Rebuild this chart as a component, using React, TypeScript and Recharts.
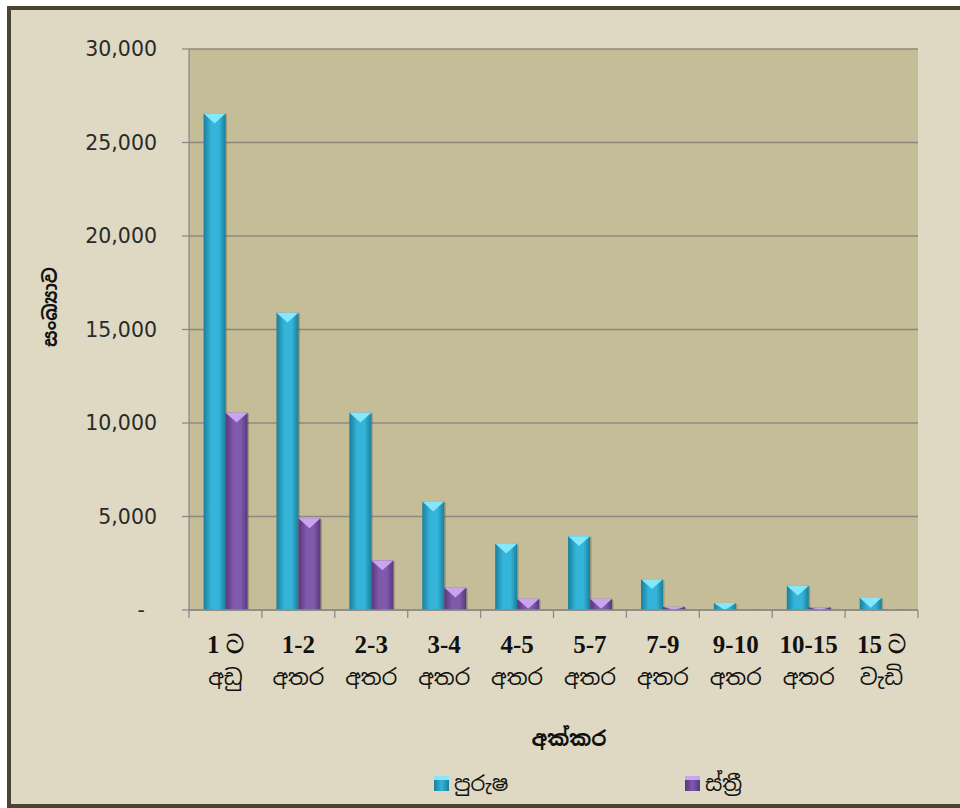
import React from "react";
import { BarChart, Bar, XAxis, YAxis, CartesianGrid, Legend, Label } from "recharts";

const rangeNumbers = ["1 ට", "1-2", "2-3", "3-4", "4-5", "5-7", "7-9", "9-10", "10-15", "15 ට"];
const rangeWords = ["අඩු", "අතර", "අතර", "අතර", "අතර", "අතර", "අතර", "අතර", "අතර", "වැඩි"];
const maleValues = [26550, 15900, 10550, 5800, 3550, 3950, 1650, 380, 1300, 650];
const femaleValues = [10550, 4900, 2650, 1200, 600, 600, 170, 30, 150, 40];
const yTicks = [0, 5000, 10000, 15000, 20000, 25000, 30000];

const MALE = "පුරුෂ";
const FEMALE = "ස්ත්‍රී";

const data = rangeNumbers.map((n, i) => ({
    num: n,
    word: rangeWords[i],
    [MALE]: maleValues[i],
    [FEMALE]: femaleValues[i],
}));

const SINHALA = "'Noto Sans Sinhala', 'Iskoola Pota', 'Noto Sans', 'DejaVu Sans', sans-serif";
const CHART_W = 960;
const CHART_H = 808;
const MARGIN = { top: 49, right: 42, left: 109, bottom: 0 };
const Y_WIDTH = 80;
const PLOT_W = CHART_W - MARGIN.left - MARGIN.right - Y_WIDTH;
const BAND = PLOT_W / data.length;

const palette = {
    male: { dark: "#1b7e9c", mid: "#33b4d8", top: "#86e6fa" },
    female: { dark: "#56387c", mid: "#8058ac", top: "#caa4ee" },
};

function BevelBar(props: any) {
    const { x, y, width, height, tone } = props;
    if (!height || height <= 0) return null;
    const c = palette[tone as "male" | "female"];
    const id = `grad-${tone}`;
    const cap = Math.min(width * 0.45, height);
    return (
        <g>
            <defs>
                <linearGradient id={id} x1="0" y1="0" x2="1" y2="0">
                    <stop offset="0%" stopColor={c.dark} />
                    <stop offset="35%" stopColor={c.mid} />
                    <stop offset="70%" stopColor={c.mid} />
                    <stop offset="100%" stopColor={c.dark} />
                </linearGradient>
            </defs>
            <rect x={x + 1.5} y={y + 1} width={width} height={height - 1} fill="rgba(60,50,20,0.25)" />
            <rect x={x} y={y} width={width} height={height} fill={`url(#${id})`} />
            <polygon
                points={`${x},${y} ${x + width},${y} ${x + width / 2},${y + cap}`}
                fill={c.top}
            />
        </g>
    );
}

function YTick(props: any) {
    const { x, y, payload } = props;
    const v = payload.value as number;
    const label = v === 0 ? "-" : v.toLocaleString("en-US");
    return (
        <text
            x={v === 0 ? x - 12 : x}
            y={y}
            dy={7}
            textAnchor="end"
            fontFamily="'DejaVu Sans', Verdana, sans-serif"
            fontSize={20.5}
            fill="#2a2a2a"
        >
            {label}
        </text>
    );
}

function XTick(props: any) {
    const { x, y, payload, index } = props;
    const d = data[index] ?? data.find((r) => r.num === payload.value);
    const left = x - BAND / 2;
    const last = index === data.length - 1;
    return (
        <g>
            <line x1={left} y1={y - 8} x2={left} y2={y} stroke="#8a8a8a" strokeWidth={1.3} />
            {last && (
                <line x1={x + BAND / 2} y1={y - 8} x2={x + BAND / 2} y2={y} stroke="#8a8a8a" strokeWidth={1.3} />
            )}
            <text
                x={x}
                y={y + 35}
                textAnchor="middle"
                fontFamily="'Liberation Serif', 'Times New Roman', serif"
                fontWeight="bold"
                fontSize={25}
                fill="#111"
            >
                {d?.num}
            </text>
            <text x={x} y={y + 67} textAnchor="middle" fontFamily={SINHALA} fontSize={22} fill="#111">
                {d?.word}
            </text>
        </g>
    );
}

function LegendBox() {
    const items = [
        { name: MALE, tone: "male" as const, left: 434 },
        { name: FEMALE, tone: "female" as const, left: 685 },
    ];
    return (
        <div style={{ position: "relative", height: 30, width: CHART_W }}>
            {items.map((it) => (
                <div
                    key={it.name}
                    style={{
                        position: "absolute",
                        left: it.left,
                        top: 0,
                        display: "flex",
                        alignItems: "center",
                        fontFamily: SINHALA,
                        fontSize: 21,
                        color: "#111",
                    }}
                >
                    <span
                        style={{
                            display: "inline-block",
                            width: 15,
                            height: 15,
                            marginRight: 5,
                            background: `linear-gradient(to right, ${palette[it.tone].dark}, ${palette[it.tone].mid}, ${palette[it.tone].dark})`,
                            borderTop: `4px solid ${palette[it.tone].top}`,
                            boxSizing: "border-box",
                        }}
                    />
                    {it.name}
                </div>
            ))}
        </div>
    );
}

export default function App() {
    return (
        <div style={{ position: "relative", width: CHART_W, height: CHART_H, overflow: "hidden" }}>
            <style>{`body{margin:0;overflow:hidden}`}</style>
            <div
                style={{
                    position: "absolute",
                    left: 7,
                    top: 6,
                    width: 970,
                    height: 802,
                    boxSizing: "border-box",
                    border: "4px solid #4a4430",
                    background: "#dfd9c3",
                }}
            />
            <div style={{ position: "absolute", left: 0, top: 0 }}>
                <BarChart
                    width={CHART_W}
                    height={CHART_H}
                    data={data}
                    margin={MARGIN}
                    barCategoryGap="20%"
                    barGap={0}
                >
                    <CartesianGrid vertical={false} stroke="#8c8a80" strokeWidth={1.3} fill="#c5bd98" />
                    <XAxis
                        dataKey="num"
                        height={CHART_H - MARGIN.top - 561}
                        axisLine={{ stroke: "#8a8a8a", strokeWidth: 1.3 }}
                        tickLine={false}
                        tick={<XTick />}
                        interval={0}
                    >
                        <Label
                            content={() => (
                                <text
                                    x={569}
                                    y={746}
                                    textAnchor="middle"
                                    fontFamily={SINHALA}
                                    fontWeight="bold"
                                    fontSize={21}
                                    fill="#111"
                                >
                                    අක්කර
                                </text>
                            )}
                        />
                    </XAxis>
                    <YAxis
                        width={Y_WIDTH}
                        domain={[0, 30000]}
                        ticks={yTicks}
                        interval={0}
                        axisLine={{ stroke: "#8a8a8a", strokeWidth: 1.3 }}
                        tickLine={{ stroke: "#8a8a8a", strokeWidth: 1.3 }}
                        tickSize={7}
                        tick={<YTick />}
                        tickMargin={25}
                    >
                        <Label
                            content={() => (
                                <text
                                    x={57}
                                    y={307}
                                    transform="rotate(-90 57 307)"
                                    textAnchor="middle"
                                    fontFamily={SINHALA}
                                    fontWeight="bold"
                                    fontSize={19}
                                    fill="#111"
                                >
                                    සංඛ්‍යාව
                                </text>
                            )}
                        />
                    </YAxis>
                    <Legend
                        verticalAlign="middle"
                        layout="horizontal"
                        wrapperStyle={{ top: 770, left: 0, width: CHART_W }}
                        content={() => <LegendBox />}
                    />
                    <Bar dataKey={MALE} isAnimationActive={false} shape={<BevelBar tone="male" />} />
                    <Bar dataKey={FEMALE} isAnimationActive={false} shape={<BevelBar tone="female" />} />
                </BarChart>
            </div>
        </div>
    );
}
